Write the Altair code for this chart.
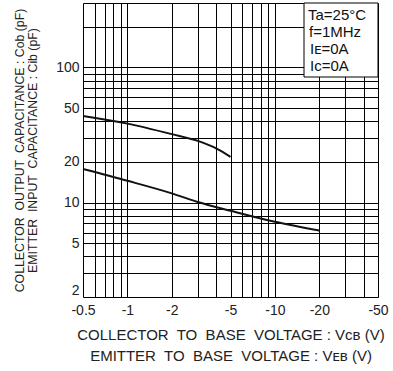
import altair as alt
import pandas as pd

# Curves (voltage in V, capacitance in pF)
cob_v = [-0.5, -1, -2, -3, -5, -10, -20]
cob_c = [17.7, 14.5, 11.7, 10.1, 8.7, 7.2, 6.2]
cib_v = [-0.5, -1, -2, -3, -4, -5]
cib_c = [43.8, 38.4, 32.1, 28.6, 25.2, 21.8]

# Grid / tick values (magnitudes of voltage, capacitance)
x_grid = [0.5, 0.6, 0.7, 0.8, 0.9, 1, 2, 3, 4, 5, 6, 7, 8, 9, 10, 20, 30, 40, 50]
x_labels = [0.5, 1, 2, 5, 10, 20, 50]
y_grid = [2, 3, 4, 5, 6, 7, 8, 9, 10, 20, 30, 40, 50, 60, 70, 80, 90, 100, 200, 300]
y_labels = [2, 5, 10, 20, 50, 100]

S = "\u00a0 "  # wide word gap
legend_lines = ["Ta=25°C", "f=1MHz", "Iᴇ=0A", "Iᴄ=0A"]
x_title = [
    "COLLECTOR" + S + "TO" + S + "BASE" + S + "VOLTAGE : Vᴄʙ (V)",
    "EMITTER" + S + "TO" + S + "BASE" + S + "VOLTAGE : Vᴇʙ (V)",
]
y_title = [
    "COLLECTOR" + S + "OUTPUT" + S + "CAPACITANCE : Cob (pF)",
    "EMITTER" + S + "INPUT" + S + "CAPACITANCE : Cib (pF)",
]

FONT = "Liberation Sans"

df = pd.concat([
    pd.DataFrame({"v": cob_v, "c": cob_c, "s": "Cob"}),
    pd.DataFrame({"v": cib_v, "c": cib_c, "s": "Cib"}),
])

xlab_expr = "indexof(" + str(x_labels) + ", datum.value) >= 0 ? '-' + format(datum.value, '~g') : ''"
ylab_expr = "indexof(" + str(y_labels) + ", datum.value) >= 0 ? format(datum.value, '~g') : ''"

x_enc = alt.X(
    "vabs:Q",
    scale=alt.Scale(type="log", domain=[0.5, 50]),
    axis=alt.Axis(
        values=x_grid, labelExpr=xlab_expr, ticks=False, domain=False,
        grid=True, gridColor="#000", gridOpacity=1, gridWidth=1,
        labelFlush=False, labelPadding=6, labelFontSize=14, labelColor="#222",
        labelFont=FONT, labelOverlap=False,
        title=x_title, titleFont=FONT, titleFontSize=15, titleFontWeight="normal",
        titleColor="#222", titleLineHeight=21, titleBaseline="top",
        titleY=30, titleAnchor="middle",
    ),
)
y_enc = alt.Y(
    "c:Q",
    scale=alt.Scale(type="log", domain=[2, 300]),
    axis=alt.Axis(
        values=y_grid, labelExpr=ylab_expr, ticks=False, domain=False,
        grid=True, gridColor="#000", gridOpacity=1, gridWidth=1,
        labelFlush=True, labelPadding=4, labelFontSize=14, labelColor="#222",
        labelFont=FONT, labelOverlap=False,
        title=y_title, titleFont=FONT, titleFontSize=12.3, titleFontWeight="normal",
        titleColor="#222", titleLineHeight=13.5, titleAngle=270,
        titleBaseline="top", titleAlign="center", titleX=-70, titleY=147,
    ),
)

curves = alt.Chart(df).transform_calculate(vabs="-datum.v").mark_line(
    color="#111", strokeWidth=2, interpolate="monotone"
).encode(x=x_enc, y=y_enc, detail="s:N")

one = alt.Data(values=[{"a": 1}])
box = alt.Chart(one).mark_rect(fill="white", stroke="#000", strokeWidth=1).encode(
    x=alt.value(221), x2=alt.value(295), y=alt.value(0), y2=alt.value(74)
)

ys = [11.5, 28.5, 45.5, 62.5]
xs = [225, 226, 227, 227]
texts = []
for t, yy, xx in zip(legend_lines, ys, xs):
    texts.append(
        alt.Chart(one).mark_text(
            text=t, align="left", baseline="middle", font=FONT, fontSize=15, color="#111"
        ).encode(x=alt.value(xx), y=alt.value(yy))
    )

chart = alt.layer(curves, box, *texts).properties(
    width=295, height=294,
    autosize=alt.AutoSizeParams(type="none"),
    padding={"left": 83, "top": 3, "right": 15, "bottom": 74},
).configure_view(stroke="#000", strokeWidth=2).configure(background="white")

chart.save("out.html", embed_options={"renderer": "svg", "actions": False})
